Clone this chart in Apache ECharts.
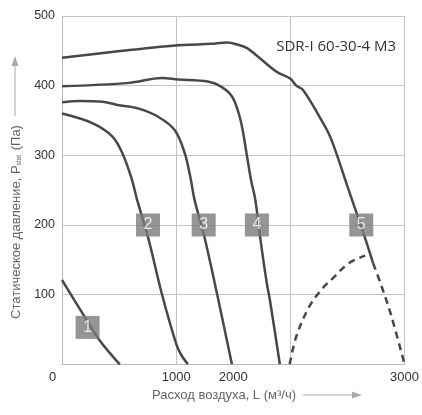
<!DOCTYPE html>
<html>
<head>
<meta charset="utf-8">
<script src="https://cdn.jsdelivr.net/npm/echarts@6/dist/echarts.min.js"></script>
<style>html,body{margin:0;padding:0;background:#fff}#c{width:422px;height:415px}</style>
</head>
<body>
<div id="c"></div>
<script>
// Data (x: air flow m3/h, y: static pressure Pa)
var curve1 = [[0,121],[184,72],[327,35],[506,0]];
var curve2 = [[0,360],[270,346],[442,327],[529,303],[609,267],[658,236],[759,179],[873,102],[1003,28],[1046,13],[1103,0]];
var curve3 = [[0,376],[155,378],[356,377],[500,372],[672,367],[845,355],[988,336],[1075,303],[1126,267],[1161,236],[1247,183],[1362,98],[1488,0]];
var curve4 = [[0,399],[586,404],[873,411],[1017,409],[1276,406],[1390,399],[1491,384],[1563,351],[1621,298],[1655,265],[1693,236],[1735,183],[1793,117],[1821,92],[1908,0]];
var curve5 = [[0,440],[471,449],[1017,458],[1190,459],[1305,460],[1448,462],[1534,459],[1621,454],[1707,443],[1879,420],[2000,410],[2052,400],[2109,394],[2253,356],[2353,325],[2511,250],[2641,188],[2725,145]];
var curve5Dash = [[2725,145],[2799,112],[2885,69],[3000,0]];
var systemDash = [[1994,0],[2052,40],[2166,83],[2282,109],[2368,123],[2511,145],[2655,156]];
var curveLabels = ['1','2','3','4','5'];
var labelPos = [[224,53],[753,200],[1241,200],[1707,200],[2621,200]];
var xTickLabels = {0:'0',1000:'1000',1500:'2000',3000:'3000'};
var yTickValues = [100,200,300,400,500];
var chartTitle = 'SDR-I 60-30-4 M3';

var chart = echarts.init(document.getElementById('c'), null, {renderer:'canvas'});
var lineColor = '#484848';
function solid(d){return {type:'line',data:d,smooth:0.35,symbol:'none',xAxisIndex:0,lineStyle:{color:lineColor,width:2.5},z:3};}
function dashed(d){return {type:'line',data:d,smooth:0.35,symbol:'none',xAxisIndex:0,lineStyle:{color:lineColor,width:2.5,type:[7,5]},z:3};}
var series = [solid(curve1),solid(curve2),solid(curve3),solid(curve4),solid(curve5),dashed(curve5Dash),dashed(systemDash)];
series.push({
  type:'scatter',xAxisIndex:0,symbol:'rect',symbolSize:[24,23],
  itemStyle:{color:'#7b7b7b'},z:5,
  data:labelPos.map(function(p,i){return {value:p,name:curveLabels[i]};}),
  label:{show:true,position:'inside',formatter:function(p){return p.name;},color:'#fff',fontSize:16,fontFamily:'Liberation Sans'}
});
chart.setOption({
  animation:false,
  grid:{left:62,right:12,top:16,bottom:50.7},
  title:{text:chartTitle,right:21,top:34,textStyle:{fontFamily:'Open Sans',fontSize:15,fontWeight:'normal',color:'#333'}},
  xAxis:[
    {type:'value',min:0,max:3000,interval:1000,
     axisLine:{show:true,lineStyle:{color:'#bbb',width:1}},axisTick:{show:false},axisLabel:{show:false},
     splitLine:{show:true,lineStyle:{color:'#c4c4c4',width:1}}},
    {type:'value',min:0,max:3000,interval:500,position:'bottom',
     axisLine:{show:false},axisTick:{show:false},splitLine:{show:false},
     axisLabel:{show:true,margin:7,color:'#333',fontSize:13,fontFamily:'Liberation Sans',
       formatter:function(v){var t=xTickLabels[v];if(t===undefined)return '';return v===0?'{z|0}':t;},
       rich:{z:{padding:[0,19,0,0],fontSize:13,color:'#333',fontFamily:'Liberation Sans'}}}}
  ],
  yAxis:{type:'value',min:0,max:500,interval:100,
     axisLine:{show:true,lineStyle:{color:'#bbb',width:1}},axisTick:{show:false},
     axisLabel:{margin:7,color:'#333',fontSize:12.5,fontFamily:'Liberation Sans',
       formatter:function(v){return yTickValues.indexOf(v)>=0?String(v):'';}},
     splitLine:{show:true,lineStyle:{color:'#c4c4c4',width:1}}},
  graphic:[
    {type:'text',x:16,y:222,rotation:Math.PI/2,
     style:{text:'Статическое давление, P{s|stat} (Па)',align:'center',verticalAlign:'middle',
       fill:'#666',font:'13px "Liberation Sans"',
       rich:{s:{fontSize:6.5,fill:'#666',fontFamily:'Liberation Sans',verticalAlign:'bottom',padding:[7,1,0,0]}}}},
    {type:'line',shape:{x1:15,y1:116,x2:15,y2:64},style:{stroke:'#aaa',lineWidth:1}},
    {type:'polygon',shape:{points:[[15,56],[11.5,66],[18.5,66]]},style:{fill:'#aaa'}},
    {type:'text',x:224,y:395,
     style:{text:'Расход воздуха, L (м³/ч)',align:'center',verticalAlign:'middle',fill:'#666',font:'13px "Liberation Sans"'}},
    {type:'line',shape:{x1:303,y1:395,x2:354,y2:395},style:{stroke:'#aaa',lineWidth:1}},
    {type:'polygon',shape:{points:[[362,395],[352,391.5],[352,398.5]]},style:{fill:'#aaa'}}
  ],
  series:series
});
</script>
</body>
</html>
